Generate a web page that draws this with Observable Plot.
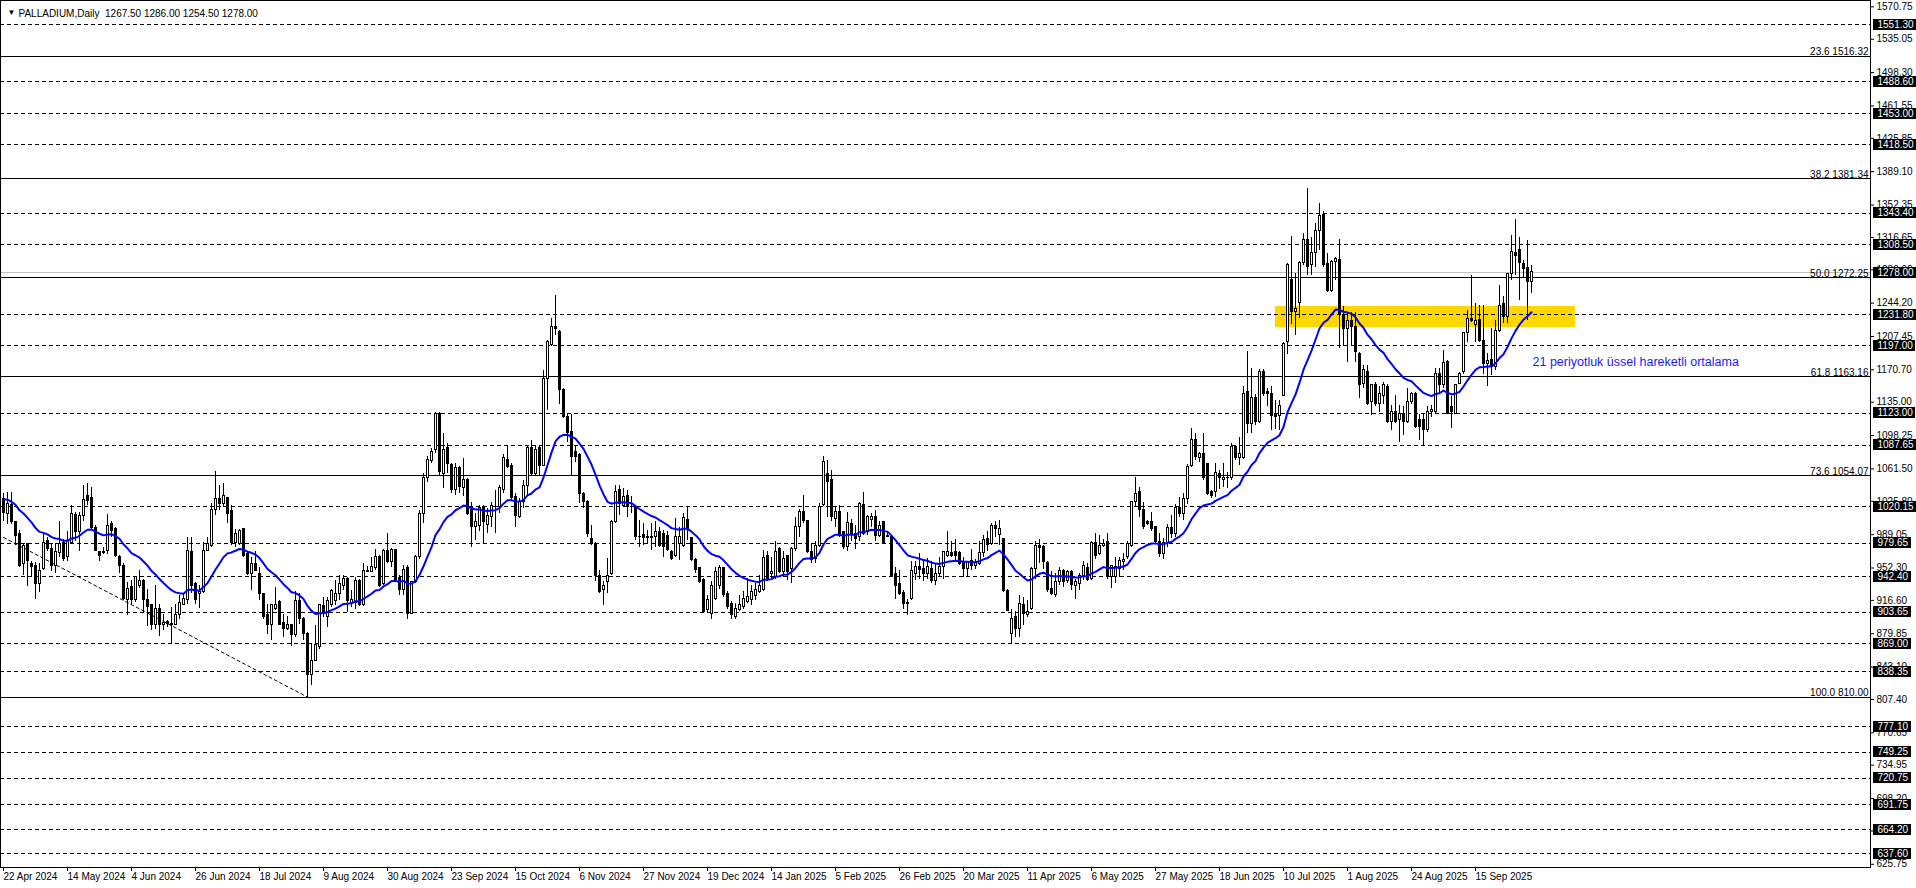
<!DOCTYPE html>
<html><head><meta charset="utf-8">
<script src="https://cdn.jsdelivr.net/npm/d3@7"></script>
<script src="https://cdn.jsdelivr.net/npm/@observablehq/plot@0.6"></script>
<style>
html,body{margin:0;padding:0;background:#fff;overflow:hidden;}
#chart svg rect, #chart svg line{shape-rendering:crispEdges;}
</style></head><body><div id="chart"></div>
<script>
// ---- daily OHLC (bar index 0 = 22 Apr 2024) ----
const opens = [
1028,1012,1022,1003,990,957,979,957,955,935,
951,982,973,955,969,980,964,980,1011,992,
1010,1032,1029,996,970,969,971,1001,995,964,
955,917,931,917,932,938,917,911,890,907,
889,893,891,890,901,912,917,970,935,924,
926,971,977,1016,1028,1023,1029,1015,980,979,
995,968,946,957,946,924,901,890,907,915,
892,885,889,878,916,896,879,834,850,865,
910,898,912,916,924,933,940,914,914,938,
912,949,948,952,964,935,971,959,972,941,
928,952,902,937,964,1012,1051,1070,1082,1122,
1056,1084,1066,1038,1062,1040,1049,1020,997,999,
1019,1000,1008,1019,1019,1038,1071,1065,1031,1008,
1025,1043,1085,1056,1084,1065,1161,1198,1218,1212,
1149,1119,1102,1080,1077,1034,1025,984,979,944,
928,937,946,1003,1038,1021,1032,1019,1019,987,
989,985,985,986,992,990,988,970,966,979,
977,1005,985,961,952,939,906,902,918,933,
952,924,913,898,906,909,915,917,921,926,
928,966,946,942,973,948,965,951,973,998,
1014,1004,970,962,977,1022,1056,1049,1006,1014,
992,975,1001,990,986,1022,992,1005,1008,988,
1003,988,987,946,935,925,914,918,946,953,
951,946,951,938,946,953,966,969,970,969,
959,951,960,955,957,969,984,979,999,989,
984,927,880,898,885,911,900,907,951,977,
975,958,929,922,937,949,938,948,933,935,
943,952,940,980,968,977,981,942,942,951,
959,964,977,1025,1036,1016,1003,1003,997,981,
968,980,996,990,1018,1012,1028,1065,1093,1073,
1078,1067,1036,1036,1056,1049,1052,1051,1086,1073,
1073,1146,1111,1140,1113,1168,1146,1144,1121,1120,
1142,1201,1270,1234,1244,1288,1314,1286,1299,1324,
1341,1287,1258,1289,1292,1231,1216,1225,1218,1188,
1155,1168,1135,1154,1133,1142,1152,1113,1124,1115,
1122,1113,1135,1144,1115,1115,1104,1124,1124,1166,
1154,1179,1130,1122,1155,1168,1211,1227,1220,1226,
1203,1177,1181,1174,1214,1243,1229,1276,1300,1303,
1287,1283,1267.5];
const highs = [
1034,1035,1035,1004,994,979,979,960,958,957,
990,986,979,979,1003,984,993,1021,1014,1014,
1043,1045,1041,999,971,975,1011,1003,997,966,
957,936,938,942,949,940,929,912,933,912,
901,894,909,912,922,924,986,986,936,933,
980,986,1023,1059,1043,1045,1030,1021,995,995,
995,970,964,970,953,924,912,912,931,916,
901,899,890,926,924,898,881,869,889,912,
920,920,929,938,944,944,942,927,942,940,
957,954,964,973,966,973,990,974,973,944,
955,955,937,966,1016,1056,1075,1084,1124,1124,
1100,1090,1067,1067,1064,1073,1051,1025,1012,1021,
1021,1018,1025,1038,1043,1077,1087,1067,1034,1029,
1049,1087,1093,1086,1086,1170,1203,1227,1253,1214,
1150,1121,1121,1086,1078,1036,1027,999,980,950,
937,963,1005,1043,1043,1040,1038,1031,1021,1005,
1001,994,1001,1003,997,994,992,972,1007,997,
1012,1019,986,963,953,941,922,937,953,955,
953,926,915,913,922,926,941,933,935,944,
972,970,964,981,975,971,966,975,1008,1017,
1032,1005,979,981,1023,1075,1071,1060,1019,1021,
993,1014,1006,999,1025,1036,1010,1012,1016,1003,
1004,993,988,953,949,928,918,960,960,968,
959,963,960,957,964,971,992,981,984,971,
964,960,973,962,981,988,992,1001,1003,1005,
985,929,907,904,922,920,916,953,981,984,
977,959,948,946,953,951,949,949,940,946,
959,957,981,990,988,984,990,955,964,964,
968,981,1026,1052,1041,1025,1005,1014,997,990,
985,1000,1010,1022,1030,1034,1066,1106,1100,1080,
1101,1068,1038,1067,1060,1067,1058,1089,1087,1096,
1152,1191,1172,1144,1171,1171,1150,1152,1137,1137,
1201,1288,1318,1277,1290,1321,1370,1317,1332,1354,
1345,1299,1291,1295,1314,1240,1233,1234,1234,1190,
1175,1175,1155,1157,1152,1157,1154,1131,1142,1131,
1130,1150,1146,1146,1122,1122,1130,1131,1172,1172,
1192,1181,1141,1155,1168,1212,1236,1275,1244,1242,
1242,1189,1216,1225,1264,1251,1277,1319,1336,1317,
1291,1313,1286];
const lows = [
1004,1000,1000,977,953,944,932,942,918,925,
949,970,948,946,964,960,960,979,982,970,
1004,1021,995,970,960,967,967,986,964,946,
916,900,912,914,930,903,888,883,885,877,
883,887,869,889,895,912,912,924,912,908,
924,970,975,1010,1016,1019,1001,977,975,977,
964,944,927,948,916,896,879,872,905,889,
876,883,866,876,890,872,810,823,849,863,
898,887,909,911,916,927,903,909,907,910,
910,947,947,950,931,933,957,953,938,922,
922,896,901,935,962,1001,1047,1067,1078,1054,
1040,1056,1034,1032,1034,1031,1010,975,983,992,
979,990,997,990,1012,1034,1062,1027,997,1007,
1018,1032,1053,1054,1054,1064,1126,1196,1209,1133,
1117,1091,1054,1069,1023,1018,986,977,937,924,
911,924,944,1001,1010,1019,1008,1012,983,975,
977,979,972,975,975,964,970,961,964,961,
975,983,959,946,935,902,902,896,917,929,
920,907,896,895,904,907,913,911,917,924,
926,937,939,940,946,942,938,935,970,986,
1001,968,957,957,975,1020,1008,1004,997,986,
973,971,981,973,982,988,988,997,982,986,
979,986,942,918,922,907,900,916,938,940,
937,940,935,933,942,940,964,964,961,955,
942,942,949,951,955,964,971,977,986,977,
925,904,869,876,876,889,898,905,940,957,
951,925,922,920,933,931,935,927,918,927,
938,937,938,962,966,975,940,930,935,942,
949,962,975,1019,1008,995,999,992,979,964,
962,975,985,986,1008,1005,1022,1063,1071,1069,
1049,1032,1029,1030,1039,1041,1040,1049,1071,1065,
1072,1100,1100,1109,1111,1141,1130,1104,1105,1104,
1141,1188,1221,1209,1227,1286,1275,1275,1284,1302,
1284,1256,1256,1269,1194,1196,1179,1196,1179,1139,
1150,1131,1120,1130,1124,1133,1111,1104,1111,1091,
1098,1111,1133,1106,1093,1086,1102,1118,1122,1144,
1150,1121,1106,1121,1154,1166,1201,1223,1201,1201,
1166,1152,1165,1170,1212,1222,1222,1269,1275,1247,
1273,1225,1254.5];
const closes = [
1013,1023,1003,988,955,977,960,953,935,949,
980,973,955,970,979,962,982,1012,992,1010,
1027,1026,996,971,966,970,999,993,966,955,
918,929,917,942,938,917,909,890,907,889,
892,891,890,901,914,918,971,933,917,926,
971,979,1016,1028,1023,1032,1012,980,990,993,
966,946,957,949,924,898,890,911,912,890,
885,889,878,916,896,879,834,850,867,911,
903,916,927,924,935,940,916,917,938,912,
949,948,953,964,933,971,959,972,939,928,
950,902,937,964,1012,1051,1071,1080,1122,1058,
1082,1067,1038,1062,1042,1049,1012,997,1003,1018,
1003,1010,1021,1020,1040,1073,1064,1029,1010,1025,
1043,1084,1056,1082,1065,1161,1201,1218,1216,1148,
1119,1101,1075,1075,1034,1025,990,979,943,926,
933,944,1003,1036,1023,1031,1019,1020,986,986,
985,986,987,992,977,975,972,962,986,986,
1007,994,961,950,937,904,917,933,948,952,
922,909,900,907,911,918,920,926,928,933,
963,939,948,970,948,962,948,973,998,1014,
1004,970,961,977,1020,1069,1047,1008,1014,988,
975,1002,990,984,1023,990,1008,1008,988,999,
979,987,944,933,924,913,913,949,953,950,
946,953,938,946,953,970,970,966,966,957,
951,959,955,958,969,983,978,999,995,995,
927,905,896,885,913,902,904,951,977,974,
959,928,924,937,949,937,948,934,937,944,
955,939,980,966,977,979,942,954,953,960,
961,979,1025,1034,1016,997,1001,995,981,968,
980,996,990,1018,1012,1028,1064,1093,1075,1078,
1051,1034,1032,1057,1051,1052,1051,1086,1073,1078,
1144,1111,1140,1113,1168,1144,1144,1120,1119,1131,
1199,1286,1234,1238,1288,1314,1284,1299,1324,1340,
1286,1258,1289,1293,1231,1216,1225,1218,1190,1154,
1170,1133,1154,1133,1144,1154,1113,1124,1113,1122,
1113,1135,1144,1108,1108,1104,1124,1126,1166,1154,
1178,1122,1124,1154,1166,1211,1227,1225,1225,1203,
1177,1180,1174,1214,1241,1229,1276,1301,1296,1288,
1282,1268,1278];

// EMA(21) value shown at the first visible bar
const emaSeed = 1028;
const emaPeriod = 21;

// date axis labels (one every 16 bars)
const tickBars = [0,16,32,48,64,80,96,112,128,144,160,176,192,208,224,240,256,272,288,304,320,336,352,368];
const dateLabels = ["22 Apr 2024","14 May 2024","4 Jun 2024","26 Jun 2024","18 Jul 2024","9 Aug 2024","30 Aug 2024","23 Sep 2024","15 Oct 2024","6 Nov 2024","27 Nov 2024","19 Dec 2024","14 Jan 2025","5 Feb 2025","26 Feb 2025","20 Mar 2025","11 Apr 2025","6 May 2025","27 May 2025","18 Jun 2025","10 Jul 2025","1 Aug 2025","24 Aug 2025","15 Sep 2025"];

// price scale tick labels
const priceTicks = [1570.75,1535.05,1498.30,1461.55,1425.85,1389.10,1352.35,1316.65,1280.90,1244.20,1207.45,1170.70,1135.00,1098.25,1061.50,1025.80,989.05,952.30,916.60,879.85,843.10,807.40,770.65,734.95,698.20,662.45,625.75];

// horizontal support / resistance levels (dashed)
const srLevels = [1551.30,1488.60,1453.00,1418.50,1343.40,1308.50,1231.80,1197.00,1123.00,1087.65,1020.15,979.65,942.40,903.65,869.00,838.35,777.10,749.25,720.75,691.75,664.20,637.60];
const bidPrice = 1278.00;

// Fibonacci levels
const fibRatios = ["23.6","38.2","50.0","61.8","73.6","100.0"];
const fibPrices = [1516.32,1381.34,1272.25,1163.16,1054.07,810.00];

// fib trend line (dashed diagonal)
const fibTrend = [{bar: 0, price: 986}, {bar: 76, price: 810}];

// highlighted zone
const zone = {startBar: 318, endBar: 393, low: 1217.5, high: 1240.5};

// annotation
const note = {bar: 382.25, price: 1179, text: "21 periyotluk üssel hareketli ortalama"};
const title = "PALLADIUM,Daily  1267.50 1286.00 1254.50 1278.00";

// ---- build ----
const N = Math.min(opens.length, highs.length, lows.length, closes.length);
const bars = d3.range(N).map(i => ({i, o: opens[i], h: highs[i], l: lows[i], c: closes[i]}));
const kEma = 2 / (emaPeriod + 1);
let ev = emaSeed;
const ema = bars.map((b, j) => { if (j > 0) ev = ev + kEma * (b.c - ev); return {i: b.i, v: ev}; });
const fibs = fibPrices.map((p, j) => ({price: p, label: fibRatios[j] + " " + p.toFixed(2)}));
const boxLevels = srLevels.concat([bidPrice]);
const labelByBar = new Map(tickBars.map((b, j) => [b, dateLabels[j]]));
const BOXTEXT = "#fffffe";

const chart = Plot.plot({
  width: 1916, height: 888,
  marginTop: 0, marginRight: 46, marginBottom: 21, marginLeft: 0,
  style: {fontFamily: "'Liberation Sans', Arial, sans-serif", fontSize: "10px", background: "#fff", color: "#000", overflow: "visible"},
  x: {type: "linear", domain: [-0.75, 466.75]},
  y: {domain: [622.2, 1577.75]},
  color: {type: "identity"},
  marks: [
    Plot.rect([zone], {x1: "startBar", x2: "endBar", y1: "low", y2: "high", fill: "#FFD700"}),
    Plot.ruleY(srLevels, {stroke: "#000", strokeDasharray: "4,3"}),
    Plot.ruleY([bidPrice], {stroke: "#c0c0c0"}),
    Plot.ruleY(fibPrices, {stroke: "#000"}),
    Plot.text(fibs, {y: "price", text: "label", frameAnchor: "right", textAnchor: "end", lineAnchor: "bottom", dx: -2, dy: -1, fill: "#000"}),
    Plot.line(fibTrend, {x: "bar", y: "price", stroke: "#000", strokeWidth: 1, strokeDasharray: "3,3"}),
    Plot.ruleX(bars, {x: "i", y1: "l", y2: "h", stroke: "#000", strokeWidth: 1}),
    Plot.rect(bars, {x1: d => d.i - 0.25, x2: d => d.i + 0.25, y1: "o", y2: "c", fill: d => d.c >= d.o ? "#fff" : "#000", stroke: "#000", strokeWidth: 1}),
    Plot.line(ema, {x: "i", y: "v", stroke: "#0000ff", strokeWidth: 2}),
    Plot.text([note], {x: "bar", y: "price", text: "text", textAnchor: "start", fill: "#1a1aff", fontSize: 12.5}),
    Plot.frame({stroke: "#000"}),
    Plot.axisX({ticks: tickBars, tickFormat: d => labelByBar.get(d), tickSize: 4, tickPadding: 1, textAnchor: "start", dx: 0, label: null, anchor: "bottom"}),
    Plot.axisY({anchor: "right", ticks: priceTicks, tickFormat: d => d.toFixed(2), tickSize: 3, tickPadding: 3, label: null}),
    Plot.text(boxLevels, {y: d => d, text: d => d.toFixed(2), frameAnchor: "right", textAnchor: "start", dx: 7, fill: BOXTEXT}),
    Plot.text(["▼"], {frameAnchor: "top-left", dx: 7, dy: 9, fontSize: 8, fill: "#000"}),
    Plot.text([title], {frameAnchor: "top-left", dx: 18, dy: 9, textAnchor: "start", fill: "#000"})
  ]
});
document.getElementById("chart").append(chart);
chart.querySelectorAll('text').forEach(t => { if (t.textContent.indexOf("PALLADIUM") >= 0) t.setAttribute("style", "white-space:pre"); });

// black boxes behind the level price labels
chart.querySelectorAll('g[fill="' + BOXTEXT + '"] text').forEach(function(t) {
  const bb = t.getBBox();
  const r = document.createElementNS("http://www.w3.org/2000/svg", "rect");
  r.setAttribute("x", bb.x - 5);
  r.setAttribute("y", bb.y + bb.height / 2 - 5.5);
  r.setAttribute("width", bb.width + 7);
  r.setAttribute("height", 11);
  r.setAttribute("fill", "#000");
  const tr = t.getAttribute("transform");
  if (tr) r.setAttribute("transform", tr);
  t.parentNode.insertBefore(r, t);
});
</script></body></html>
